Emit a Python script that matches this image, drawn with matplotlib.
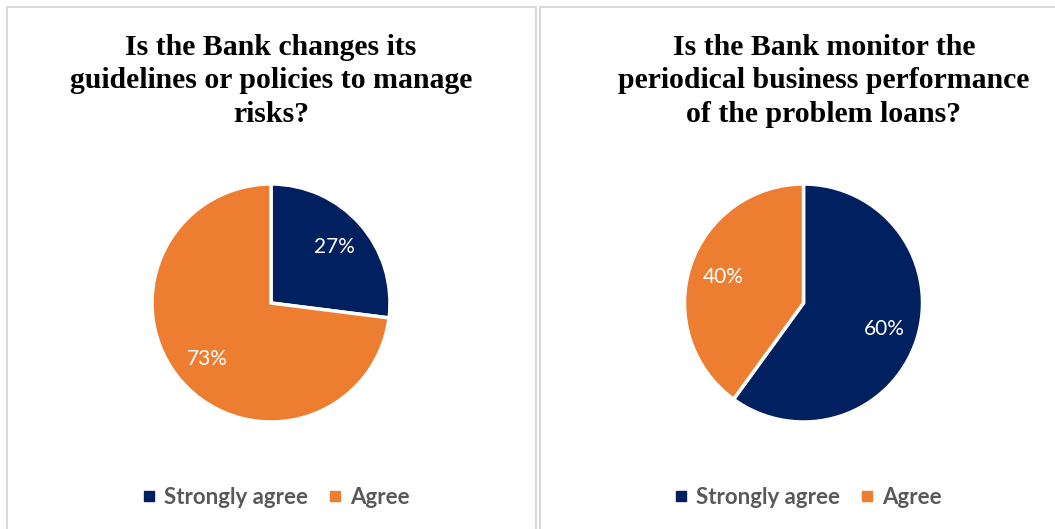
import matplotlib
matplotlib.use("Agg")
import matplotlib.pyplot as plt
from matplotlib.lines import Line2D
from matplotlib.patches import Rectangle

W, H = 1055, 529
DPI = 100

# Survey responses (percent)
categories = ["Strongly agree", "Agree"]
q1_title = "Is the Bank changes its\nguidelines or policies to manage\nrisks?"
q1_values = [27, 73]
q2_title = "Is the Bank monitor the\nperiodical business performance\nof the problem loans?"
q2_values = [60, 40]

colors = ["#002060", "#ED7D31"]
legend_color = "#595959"
border_color = "#D9D9D9"

fig = plt.figure(figsize=(W / DPI, H / DPI), dpi=DPI)
fig.patch.set_facecolor("white")


def px_rect(x0, y0, w, h):
    """Pixel box (from top-left) to figure fraction [l, b, w, h]."""
    return [x0 / W, 1 - (y0 + h) / H, w / W, h / H]


# Panel frames
for (x0, y0, x1, y1) in [(6.5, 7, 535.5, 540), (539.5, 7, 1070, 540)]:
    fig.patches.append(Rectangle((x0 / W, 1 - y1 / H), (x1 - x0) / W, (y1 - y0) / H,
                                 transform=fig.transFigure, fill=False,
                                 edgecolor=border_color, linewidth=1.5, zorder=0))

# (title, values, pie centre x, pie centre y, title x, legend x)
panels = [
    (q1_title, q1_values, 271, 303, 271, 276),
    (q2_title, q2_values, 803.5, 303, 824, 808),
]

R = 119
for title, values, cx, cy, tx, lx in panels:
    ax = fig.add_axes(px_rect(cx - R, cy - R, 2 * R, 2 * R))
    wedges, texts, autotexts = ax.pie(
        values, colors=colors, startangle=90, counterclock=False,
        autopct=lambda p: f"{p:.0f}%", pctdistance=0.71,
        wedgeprops=dict(edgecolor="white", linewidth=2.5),
        textprops=dict(color="white", fontsize=15, family="Lato"),
    )
    ax.set_aspect("equal")
    ax.set_xlim(-1, 1)
    ax.set_ylim(-1, 1)
    ax.axis("off")

    fig.text(tx / W, 1 - 81 / H, title, ha="center", va="center",
             family="Liberation Serif", fontweight="bold", fontsize=21.4,
             linespacing=1.29, color="black")

    handles = [Line2D([], [], linestyle="none", marker="s", markersize=6.5,
                      markerfacecolor=c, markeredgecolor=c) for c in colors]
    leg = fig.legend(handles, categories, loc="center",
                     bbox_to_anchor=(lx / W, 1 - 497 / H), ncol=2,
                     frameon=False, handlelength=0.6, handletextpad=0.4,
                     columnspacing=0.9,
                     prop=dict(family="Lato", weight="bold", size=16))
    for t in leg.get_texts():
        t.set_color(legend_color)

fig.savefig("out.png", dpi=DPI, facecolor="white")
